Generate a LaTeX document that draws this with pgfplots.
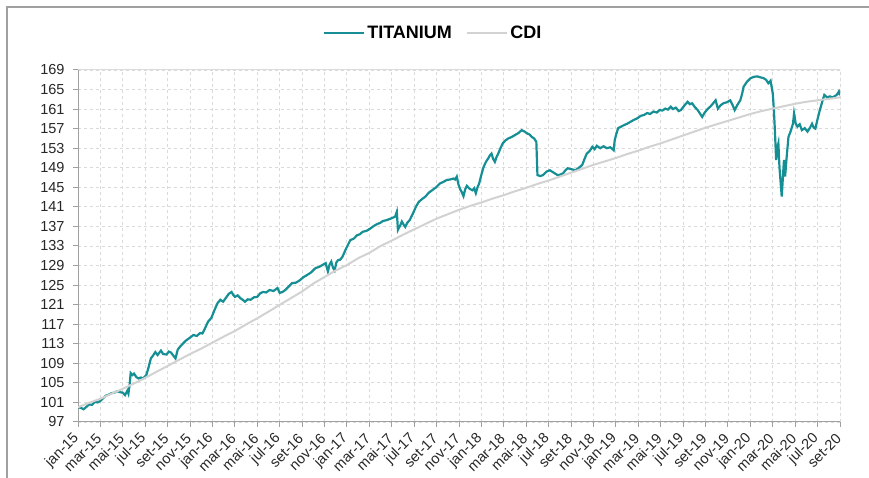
\documentclass[border=0pt]{standalone}
\usepackage{fontspec}
\setmainfont{Liberation Sans}
\usepackage{pgfplots}
\pgfplotsset{compat=1.18}
\definecolor{teal}{RGB}{22,143,148}
\definecolor{cdi}{RGB}{210,210,210}
\definecolor{gridc}{RGB}{218,218,218}
\definecolor{axc}{RGB}{160,160,160}
\begin{document}
\begin{tikzpicture}[x=1bp,y=1bp]
\useasboundingbox (0,0) rectangle (869,478);
\draw[axc, line width=1.5bp] (7,0) -- (7,471) -- (869,471);
\begin{axis}[
  at={(78bp,56bp)}, anchor=south west,
  scale only axis, width=762bp, height=352bp,
  xmin=0, xmax=68, ymin=97, ymax=169,
  xtick={0,2,...,68},
  xticklabels={jan-15,mar-15,mai-15,jul-15,set-15,nov-15,jan-16,mar-16,mai-16,jul-16,set-16,nov-16,jan-17,mar-17,mai-17,jul-17,set-17,nov-17,jan-18,mar-18,mai-18,jul-18,set-18,nov-18,jan-19,mar-19,mai-19,jul-19,set-19,nov-19,jan-20,mar-20,mai-20,jul-20,set-20},
  ytick={97,101,...,169},
  grid=major,
  major grid style={gridc, dashed, line width=0.9bp},
  axis line style={draw=none},
  tick align=outside,
  major tick length=5bp,
  tick style={axc, line width=1bp},
  xtick pos=bottom, ytick pos=left,
  xticklabel style={yshift=-7bp, xshift=1bp, rotate=45, anchor=east, font=\fontsize{14.5bp}{16bp}\selectfont, color=black!85},
  yticklabel style={font=\fontsize{14.5bp}{16bp}\selectfont, color=black!85, xshift=-5bp},
  /pgf/number format/assume math mode=true,
  legend columns=2,
  legend style={at={(0.466,1.105)}, anchor=center, draw=none, fill=none,
    font=\bfseries\fontsize{18bp}{20bp}\selectfont,
    /tikz/every even column/.append style={column sep=12bp}},
  legend image code/.code={\draw[#1, line width=2.4bp] (0bp,0bp) -- (40bp,0bp);},
]
\draw[cdi!80, line width=1bp] (rel axis cs:0,1) -- (rel axis cs:1,1) -- (rel axis cs:1,0);
\draw[axc, line width=1.5bp] (rel axis cs:0,1) -- (rel axis cs:0,0) -- (rel axis cs:1,0);
\addplot[teal, line width=2.2bp] coordinates {
(0,100.0)(0.25,99.9)(0.5,99.6)(0.75,100.1)(1.0,100.6)(1.25,100.5)(1.5,101.1)(1.75,101.0)(2.0,101.3)(2.25,101.9)(2.5,102.4)(2.75,102.6)(3.0,102.9)(3.25,103.0)(3.5,103.3)(3.75,103.1)(4.0,103.0)(4.2,102.5)(4.4,103.4)(4.5,102.8)(4.6,104.5)(4.7,107.0)(4.85,106.6)(5.0,106.9)(5.2,106.2)(5.4,105.9)(5.6,106.1)(5.8,105.9)(6.1,106.6)(6.3,108.2)(6.5,110.0)(6.7,110.6)(6.9,111.3)(7.1,110.7)(7.4,111.6)(7.6,110.9)(7.9,110.8)(8.1,111.4)(8.3,111.2)(8.5,110.6)(8.7,110.0)(8.9,111.8)(9.1,112.4)(9.35,113.0)(9.6,113.6)(9.9,114.1)(10.3,114.8)(10.6,114.6)(10.9,115.2)(11.1,115.1)(11.3,116.0)(11.6,117.5)(11.9,118.3)(12.2,120.0)(12.45,121.3)(12.7,122.0)(12.95,121.6)(13.2,122.4)(13.45,123.2)(13.7,123.6)(13.85,123.0)(14.0,122.6)(14.25,122.9)(14.5,122.3)(14.7,122.0)(14.9,121.6)(15.15,122.1)(15.4,122.0)(15.7,122.5)(16.0,122.6)(16.25,123.3)(16.5,123.6)(16.8,123.5)(17.1,124.0)(17.45,123.8)(17.8,124.4)(18.0,123.4)(18.25,123.6)(18.5,124.0)(18.8,124.7)(19.1,125.4)(19.45,125.5)(19.8,126.0)(20.1,126.6)(20.4,127.0)(20.8,127.6)(21.2,128.5)(21.5,128.7)(21.8,129.1)(22.1,129.5)(22.3,127.8)(22.45,129.2)(22.6,129.8)(22.75,128.6)(22.9,128.0)(23.05,129.6)(23.2,130.1)(23.4,130.2)(23.6,130.8)(23.95,132.6)(24.3,134.2)(24.6,134.5)(24.9,135.2)(25.15,135.4)(25.4,135.9)(25.75,136.1)(26.1,136.6)(26.4,137.1)(26.7,137.5)(26.95,137.7)(27.2,138.1)(27.55,138.3)(27.9,138.6)(28.1,138.8)(28.3,139.0)(28.45,140.0)(28.55,136.3)(28.75,137.2)(28.9,138.0)(29.05,137.4)(29.2,136.9)(29.4,137.8)(29.6,138.3)(29.75,139.0)(29.9,139.7)(30.15,141.0)(30.4,142.0)(30.7,142.6)(31.0,143.1)(31.3,143.9)(31.6,144.4)(31.95,145.0)(32.3,145.8)(32.6,146.1)(32.9,146.5)(33.2,146.6)(33.5,146.8)(33.65,146.6)(33.8,147.2)(33.95,145.6)(34.1,144.6)(34.25,144.0)(34.4,143.2)(34.55,144.6)(34.7,145.3)(34.95,144.7)(35.2,144.4)(35.35,144.8)(35.5,143.8)(35.65,145.0)(35.8,145.8)(36.0,147.6)(36.2,149.2)(36.4,150.2)(36.6,150.9)(36.75,151.5)(36.9,151.9)(37.05,150.8)(37.2,150.2)(37.35,151.2)(37.5,151.9)(37.7,153.0)(37.9,154.0)(38.15,154.6)(38.4,155.0)(38.7,155.3)(39.0,155.7)(39.3,156.1)(39.6,156.7)(39.85,156.4)(40.1,156.0)(40.3,155.8)(40.5,155.3)(40.7,155.0)(40.9,154.3)(41.0,147.5)(41.25,147.3)(41.5,147.5)(41.8,148.2)(42.1,148.5)(42.45,148.0)(42.8,147.5)(43.05,147.6)(43.3,147.9)(43.5,148.5)(43.7,148.9)(44.05,148.7)(44.4,148.5)(44.7,149.0)(45.0,149.6)(45.2,150.8)(45.4,151.9)(45.65,152.4)(45.9,153.3)(46.1,152.8)(46.3,153.5)(46.6,153.0)(46.9,153.4)(47.2,153.0)(47.5,153.2)(47.8,152.6)(47.9,154.7)(48.05,156.0)(48.2,157.1)(48.45,157.4)(48.7,157.7)(49.0,158.0)(49.3,158.4)(49.6,158.8)(49.9,159.1)(50.2,159.6)(50.5,159.8)(50.8,160.2)(51.05,160.0)(51.35,160.5)(51.65,160.3)(51.9,160.8)(52.15,160.7)(52.4,161.1)(52.65,160.9)(52.9,161.5)(53.1,161.0)(53.35,161.3)(53.6,160.6)(53.8,160.8)(54.1,161.7)(54.4,162.5)(54.6,162.0)(54.8,162.2)(55.05,161.4)(55.3,160.8)(55.5,160.1)(55.7,159.4)(55.9,160.2)(56.1,160.8)(56.5,161.7)(56.9,162.8)(57.1,161.1)(57.35,161.8)(57.6,162.2)(57.9,162.4)(58.2,162.8)(58.4,161.9)(58.6,160.8)(58.85,161.9)(59.1,162.8)(59.25,164.0)(59.4,165.6)(59.7,166.6)(60.0,167.3)(60.3,167.6)(60.6,167.7)(60.9,167.5)(61.2,167.3)(61.4,167.0)(61.6,166.3)(61.8,166.8)(62.0,164.2)(62.1,160.8)(62.2,156.0)(62.3,150.6)(62.4,153.0)(62.5,154.0)(62.6,149.0)(62.7,146.0)(62.8,143.1)(62.9,147.0)(63.0,150.6)(63.1,147.2)(63.25,151.5)(63.4,155.3)(63.6,156.5)(63.8,158.0)(63.9,160.1)(64.05,158.0)(64.2,157.4)(64.4,157.9)(64.6,156.7)(64.85,157.1)(65.1,156.4)(65.3,157.1)(65.5,158.0)(65.65,157.2)(65.8,157.0)(66.0,159.0)(66.2,160.8)(66.4,162.4)(66.6,163.9)(66.85,163.4)(67.1,163.6)(67.3,163.4)(67.5,163.6)(67.7,163.9)(67.9,164.6)(68.0,163.8)
};
\addlegendentry{TITANIUM}
\addplot[cdi, line width=2bp] coordinates {
(0,100.0)(1,100.93)(2,101.76)(3,102.80)(4,103.79)(5,104.89)(6,106.04)(7,107.26)(8,108.47)(9,109.69)(10,110.90)(11,112.02)(12,113.24)(13,114.46)(14,115.61)(15,116.96)(16,118.22)(17,119.57)(18,120.97)(19,122.33)(20,123.70)(21,125.32)(22,126.66)(23,127.99)(24,129.10)(25,130.5)(26,131.6)(27,133.0)(28,134.1)(29,135.3)(30,136.4)(31,137.5)(32,138.6)(33,139.5)(34,140.4)(35,141.2)(36,141.9)(37,142.7)(38,143.4)(39,144.2)(40,144.9)(41,145.7)(42,146.4)(43,147.2)(44,148.0)(45,148.8)(46,149.6)(47,150.3)(48,151.0)(49,151.8)(50,152.5)(51,153.3)(52,154.0)(53,154.8)(54,155.6)(55,156.4)(56,157.2)(57,157.9)(58,158.6)(59,159.3)(60,160.0)(61,160.6)(62,161.1)(63,161.6)(64,162.1)(65,162.5)(66,162.8)(67,163.1)(68,163.4)
};
\addlegendentry{CDI}
\end{axis}
\end{tikzpicture}
\end{document}
